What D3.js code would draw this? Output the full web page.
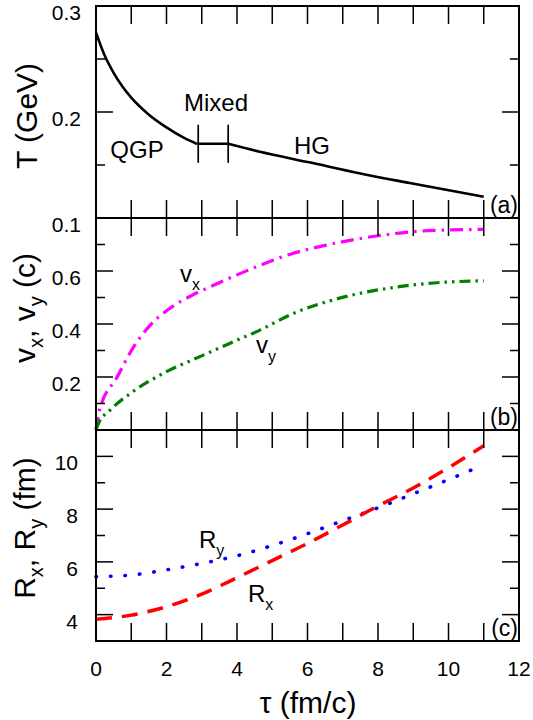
<!DOCTYPE html>
<html>
<head>
<meta charset="utf-8">
<script src="https://cdn.jsdelivr.net/npm/d3@7"></script>
<style>
  body { margin: 0; background: #fff; }
</style>
</head>
<body>
<div id="viz"></div>
<script>

// ---- data ----
// (a) temperature vs proper time, three phases
var tauQGP = [0, 0.25, 0.5, 0.75, 1.0, 1.5, 2.0, 2.5, 2.85];
var tQGP   = [0.275, 0.253, 0.237, 0.224, 0.2135, 0.1975, 0.1855, 0.1755, 0.170];
var tauMix = [2.85, 3.75];
var tMix   = [0.170, 0.170];
var tauHG  = [3.75, 4.65, 6.05, 7.5, 8.9, 11.0];
var tHG    = [0.170, 0.1625, 0.1525, 0.142, 0.133, 0.120];
var mixBars = [2.9, 3.75];
var mixBarRange = [0.152, 0.188];

// (b) flow velocities
var tauVx = [0, 0.1, 0.6, 1.05, 1.5, 2.0, 2.75, 3.4, 4.35, 5.6, 6.55, 7.95, 9.4, 11.0];
var vx    = [0, 0.075, 0.20, 0.31, 0.39, 0.45, 0.51, 0.55, 0.605, 0.667, 0.698, 0.732, 0.752, 0.757];
var tauVy = [0, 0.07, 0.4, 1.05, 2.0, 2.95, 3.9, 4.65, 5.6, 6.55, 7.5, 8.45, 9.4, 11.0];
var vy    = [0, 0.025, 0.075, 0.145, 0.22, 0.277, 0.333, 0.377, 0.44, 0.484, 0.516, 0.538, 0.553, 0.563];

// (c) radii
var tauR = [0, 1, 2, 3, 4, 5, 6, 7, 8, 9, 10, 11];
var rx   = [3.82, 3.98, 4.3, 4.78, 5.4, 6.05, 6.7, 7.4, 8.12, 8.8, 9.57, 10.4];
var ry   = [5.44, 5.5, 5.7, 5.94, 6.23, 6.62, 7.07, 7.56, 8.05, 8.58, 9.12, 9.68];

// ticks
var xTicks = [1, 2, 3, 4, 5, 6, 7, 8, 9, 10, 11];
var xLabels = [0, 2, 4, 6, 8, 10, 12];
var aMajor = [0.2], aMinor = [0.15, 0.25], aLabels = [0.1, 0.2, 0.3];
var bMajor = [0.2, 0.4, 0.6], bMinor = [0.1, 0.3, 0.5, 0.7], bLabels = [0.2, 0.4, 0.6];
var cMajor = [4, 6, 8, 10], cMinor = [5, 7, 9], cLabels = [4, 6, 8, 10];

var font = "Liberation Sans, Arial, Helvetica, sans-serif";

var svg = d3.select("#viz").append("svg")
  .attr("width", 533)
  .attr("height", 720)
  .attr("font-family", font);

var x = d3.scaleLinear().domain([0, 12]).range([96, 519]);
var xl = x.range()[0], xr = x.range()[1];

var panels = [
  {y: d3.scaleLinear().domain([0.1, 0.3]).range([218, 6]), major: aMajor, minor: aMinor, labels: aLabels, fmt: d3.format(".1f"), pad: 15, tag: "(a)"},
  {y: d3.scaleLinear().domain([0, 0.8]).range([430, 218]), major: bMajor, minor: bMinor, labels: bLabels, fmt: d3.format(".1f"), pad: 15, tag: "(b)"},
  {y: d3.scaleLinear().domain([3, 11]).range([641, 430]), major: cMajor, minor: cMinor, labels: cLabels, fmt: d3.format("d"), pad: 18, tag: "(c)"}
];

function curve(y) {
  return d3.line()
    .x(function(d) { return x(d[0]); })
    .y(function(d) { return y(d[1]); })
    .curve(d3.curveMonotoneX);
}
function zip(a, b) { return a.map(function(v, i) { return [v, b[i]]; }); }

// ---- panel (a) ----
var yA = panels[0].y;
[[tauQGP, tQGP], [tauMix, tMix], [tauHG, tHG]].forEach(function(s) {
  svg.append("path")
    .attr("d", curve(yA)(zip(s[0], s[1])))
    .attr("fill", "none").attr("stroke", "#000").attr("stroke-width", 2.6);
});
svg.append("g").selectAll("rect")
  .data(mixBars)
  .join("rect")
  .attr("x", d => x(d) - 0.85)
  .attr("y", yA(mixBarRange[1]))
  .attr("width", 1.7)
  .attr("height", yA(mixBarRange[0]) - yA(mixBarRange[1]))
  .attr("fill", "#000");

// ---- panel (b) ----
var yB = panels[1].y;
svg.append("path")
  .attr("d", curve(yB)(zip(tauVx, vx)))
  .attr("fill", "none").attr("stroke", "#ff00ff").attr("stroke-width", 3.2)
  .attr("stroke-dasharray", "13,6,2.5,6");
svg.append("path")
  .attr("d", curve(yB)(zip(tauVy, vy)))
  .attr("fill", "none").attr("stroke", "#007f00").attr("stroke-width", 3.2)
  .attr("stroke-dasharray", "11,5,2.5,5,2.5,5");

// ---- panel (c) ----
var yC = panels[2].y;
svg.append("path")
  .attr("d", curve(yC)(zip(tauR, ry)))
  .attr("fill", "none").attr("stroke", "#0000ff").attr("stroke-width", 3.6)
  .attr("stroke-linecap", "round")
  .attr("stroke-dasharray", "0.5,14");
svg.append("path")
  .attr("d", curve(yC)(zip(tauR, rx)))
  .attr("fill", "none").attr("stroke", "#ff0000").attr("stroke-width", 3.5)
  .attr("stroke-dasharray", "16,10");

// ---- texts ----
panels.forEach(function(p) {
  var yb = p.y.range()[0];
  svg.append("g").selectAll("text")
    .data(p.labels)
    .join("text")
    .attr("x", xl - p.pad)
    .attr("y", d => p.y(d) + 14)
    .attr("text-anchor", "end")
    .attr("font-size", 21)
    .text(p.fmt);

  svg.append("text")
    .attr("x", xr - 1).attr("y", yb - 5)
    .attr("text-anchor", "end")
    .attr("font-size", 23)
    .text(p.tag);
});

svg.append("g").selectAll("text")
  .data(xLabels)
  .join("text")
  .attr("x", d => x(d))
  .attr("y", 676)
  .attr("text-anchor", "middle")
  .attr("font-size", 21)
  .text(d => d);

svg.append("text").attr("x", 137).attr("y", 158).attr("text-anchor", "middle").attr("font-size", 24).text("QGP");
svg.append("text").attr("x", 216).attr("y", 111).attr("text-anchor", "middle").attr("font-size", 24).text("Mixed");
svg.append("text").attr("x", 312).attr("y", 154).attr("text-anchor", "middle").attr("font-size", 24).text("HG");

var lvx = svg.append("text").attr("x", 180).attr("y", 282).attr("font-size", 24);
lvx.append("tspan").text("v");
lvx.append("tspan").attr("font-size", 16).attr("dy", 8).text("x");
var lvy = svg.append("text").attr("x", 256).attr("y", 353).attr("font-size", 24);
lvy.append("tspan").text("v");
lvy.append("tspan").attr("font-size", 16).attr("dy", 9).text("y");

var lry = svg.append("text").attr("x", 199).attr("y", 548).attr("font-size", 24);
lry.append("tspan").text("R");
lry.append("tspan").attr("font-size", 16).attr("dy", 8).text("y");
var lrx = svg.append("text").attr("x", 248).attr("y", 602).attr("font-size", 24);
lrx.append("tspan").text("R");
lrx.append("tspan").attr("font-size", 16).attr("dy", 8).text("x");

// ---- axis titles ----
svg.append("text")
  .attr("transform", "translate(37,116) rotate(-90)")
  .attr("text-anchor", "middle").attr("font-size", 30)
  .text("T (GeV)");

var tb = svg.append("text")
  .attr("transform", "translate(35,308) rotate(-90)")
  .attr("text-anchor", "middle").attr("font-size", 30);
tb.append("tspan").text("v");
tb.append("tspan").attr("font-size", 20).attr("dy", 8).text("x");
tb.append("tspan").attr("dy", -8).text(", v");
tb.append("tspan").attr("font-size", 20).attr("dy", 8).text("y");
tb.append("tspan").attr("dy", -8).text(" (c)");

var tc = svg.append("text")
  .attr("transform", "translate(35,528) rotate(-90)")
  .attr("text-anchor", "middle").attr("font-size", 30);
tc.append("tspan").text("R");
tc.append("tspan").attr("font-size", 20).attr("dy", 8).text("x");
tc.append("tspan").attr("dy", -8).text(", R");
tc.append("tspan").attr("font-size", 20).attr("dy", 8).text("y");
tc.append("tspan").attr("dy", -8).text(" (fm)");

svg.append("text")
  .attr("x", 308).attr("y", 713)
  .attr("text-anchor", "middle").attr("font-size", 30)
  .text("τ (fm/c)");

// ---- frames and tick marks, as filled bars, drawn last ----
panels.forEach(function(p) {
  var yb = p.y.range()[0], yt = p.y.range()[1];
  var marks = [];
  xTicks.forEach(function(t) {
    marks.push({x: x(t) - 0.75, y: yb - 18, w: 1.5, h: 18});
    marks.push({x: x(t) - 0.75, y: yt, w: 1.5, h: 18});
  });
  p.major.forEach(function(v) {
    marks.push({x: xl, y: p.y(v) - 0.75, w: 17, h: 1.5});
    marks.push({x: xr - 17, y: p.y(v) - 0.75, w: 17, h: 1.5});
  });
  p.minor.forEach(function(v) {
    marks.push({x: xl, y: p.y(v) - 0.75, w: 9, h: 1.5});
    marks.push({x: xr - 9, y: p.y(v) - 0.75, w: 9, h: 1.5});
  });
  svg.append("g").selectAll("rect")
    .data(marks)
    .join("rect")
    .attr("x", d => d.x).attr("y", d => d.y)
    .attr("width", d => d.w).attr("height", d => d.h)
    .attr("fill", "#000");

  var fr = d3.path();
  fr.rect(xl, yt, xr - xl, yb - yt);
  svg.append("path").attr("d", fr.toString())
    .attr("fill", "none").attr("stroke", "#000").attr("stroke-width", 2);
});

</script>
</body>
</html>
